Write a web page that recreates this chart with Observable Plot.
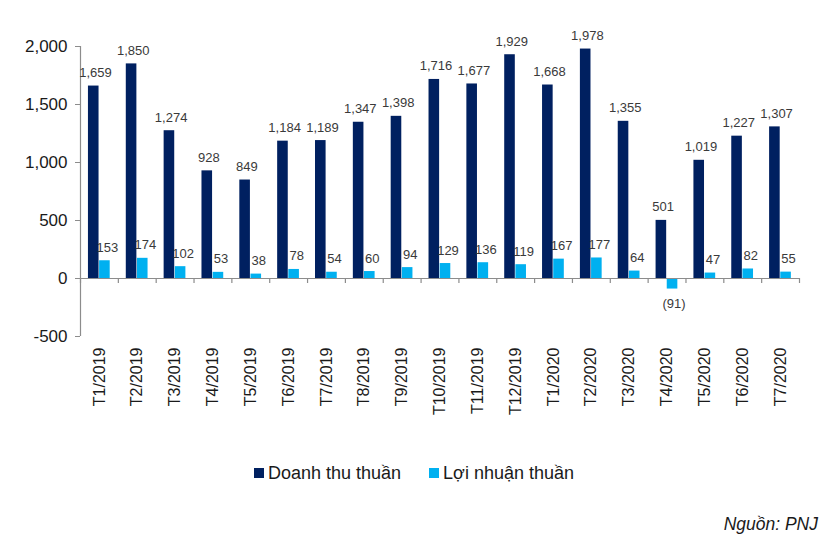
<!DOCTYPE html>
<html>
<head>
<meta charset="utf-8">
<script src="https://cdn.jsdelivr.net/npm/d3@7"></script>
<script src="https://cdn.jsdelivr.net/npm/@observablehq/plot@0.6"></script>
<style>
  html, body { margin: 0; padding: 0; background: #fff; }
  body { width: 836px; height: 544px; position: relative; font-family: "Liberation Sans", Arial, sans-serif; overflow: hidden; }
  #chart { position: absolute; left: 0; top: 0; }
  #legend { position: absolute; left: -4px; width: 836px; top: 462px; height: 22px; display: flex; justify-content: center; align-items: center; font-size: 18px; color: #1a1a1a; box-sizing: border-box; }
  .item { display: flex; align-items: center; margin: 0 14px; }
  .sw { width: 10px; height: 10px; margin-right: 4px; }
  #caption { position: absolute; right: 18px; top: 514px; font-size: 17.5px; font-style: italic; color: #1a1a1a; }
</style>
</head>
<body>
<div id="chart"></div>
<div id="legend"></div>
<div id="caption">Nguồn: PNJ</div>
<script>
const months = ["T1/2019","T2/2019","T3/2019","T4/2019","T5/2019","T6/2019","T7/2019","T8/2019","T9/2019","T10/2019","T11/2019","T12/2019","T1/2020","T2/2020","T3/2020","T4/2020","T5/2020","T6/2020","T7/2020"];
const revenue = [1659,1850,1274,928,849,1184,1189,1347,1398,1716,1677,1929,1668,1978,1355,501,1019,1227,1307];
const profit = [153,174,102,53,38,78,54,60,94,129,136,119,167,177,64,-91,47,82,55];
const yTicks = [-500,0,500,1000,1500,2000];
const seriesNames = ["Doanh thu thuần","Lợi nhuận thuần"];
const colors = ["#002060","#00B0F0"];

const data = months.map((m, i) => ({month: m, revenue: revenue[i], profit: profit[i]}));

const W = 836, H = 440, mL = 80, mR = 37, mT = 46, mB = 104;
const bw = (W - mL - mR) / months.length;
const fmt = d3.format(",");
const yFmt = d => d < 0 ? "-" + fmt(-d) : fmt(d);
const lab = d => d < 0 ? `(${fmt(-d)})` : fmt(d);
const pxToUnits = 2500 / (H - mT - mB);

const chart = Plot.plot({
  width: W, height: H,
  marginLeft: mL, marginRight: mR, marginTop: mT, marginBottom: mB,
  style: {fontFamily: '"Liberation Sans", Arial, sans-serif', background: "#fff", overflow: "visible"},
  x: {domain: months, padding: 0, round: false, label: null},
  y: {domain: [-500, 2000], label: null},
  marks: [
    Plot.barY(data, {x: "month", y: "revenue", fill: colors[0], insetLeft: bw * 0.21, insetRight: bw - bw * 0.49}),
    Plot.barY(data, {x: "month", y: "profit", fill: colors[1], insetLeft: bw * 0.505, insetRight: bw - bw * 0.785}),
    Plot.ruleY([0], {stroke: "#8c8c8c", strokeWidth: 1.2}),
    Plot.ruleX(months, {x: d => d, y1: 0, y2: -5 * pxToUnits, dx: -bw / 2, stroke: "#8c8c8c", strokeWidth: 1.2}),
    Plot.ruleX([months[months.length - 1]], {x: d => d, y1: 0, y2: -5 * pxToUnits, dx: bw / 2, stroke: "#8c8c8c", strokeWidth: 1.2}),
    Plot.ruleX([months[0]], {x: d => d, y1: -500, y2: 2000, dx: -bw / 2, stroke: "#8c8c8c", strokeWidth: 1.2}),
    Plot.axisY({ticks: yTicks, tickSize: 5, tickPadding: 8, tickFormat: yFmt, fontSize: 17, fill: "#1a1a1a", stroke: "#8c8c8c", label: null}),
    Plot.axisX({tickSize: 0, tickPadding: 11, tickRotate: -90, fontSize: 16, fill: "#1a1a1a", label: null}),
    Plot.text(data, {x: "month", y: "revenue", text: d => lab(d.revenue), dx: -4, dy: -9, lineAnchor: "bottom", fontSize: 13, fill: "#3a3a3a"}),
    Plot.text(data.filter(d => d.profit >= 0), {x: "month", y: "profit", text: d => lab(d.profit), dx: 8, dy: -9, lineAnchor: "bottom", fontSize: 13, fill: "#3a3a3a"}),
    Plot.text(data.filter(d => d.profit < 0), {x: "month", y: "profit", text: d => lab(d.profit), dx: 7, dy: 10, lineAnchor: "top", fontSize: 13, fill: "#3a3a3a"})
  ]
});
document.getElementById("chart").appendChild(chart);

const legend = document.getElementById("legend");
seriesNames.forEach((name, i) => {
  const item = document.createElement("div");
  item.className = "item";
  const sw = document.createElement("div");
  sw.className = "sw";
  sw.style.background = colors[i];
  const t = document.createElement("span");
  t.textContent = name;
  item.appendChild(sw);
  item.appendChild(t);
  legend.appendChild(item);
});
</script>
</body>
</html>
